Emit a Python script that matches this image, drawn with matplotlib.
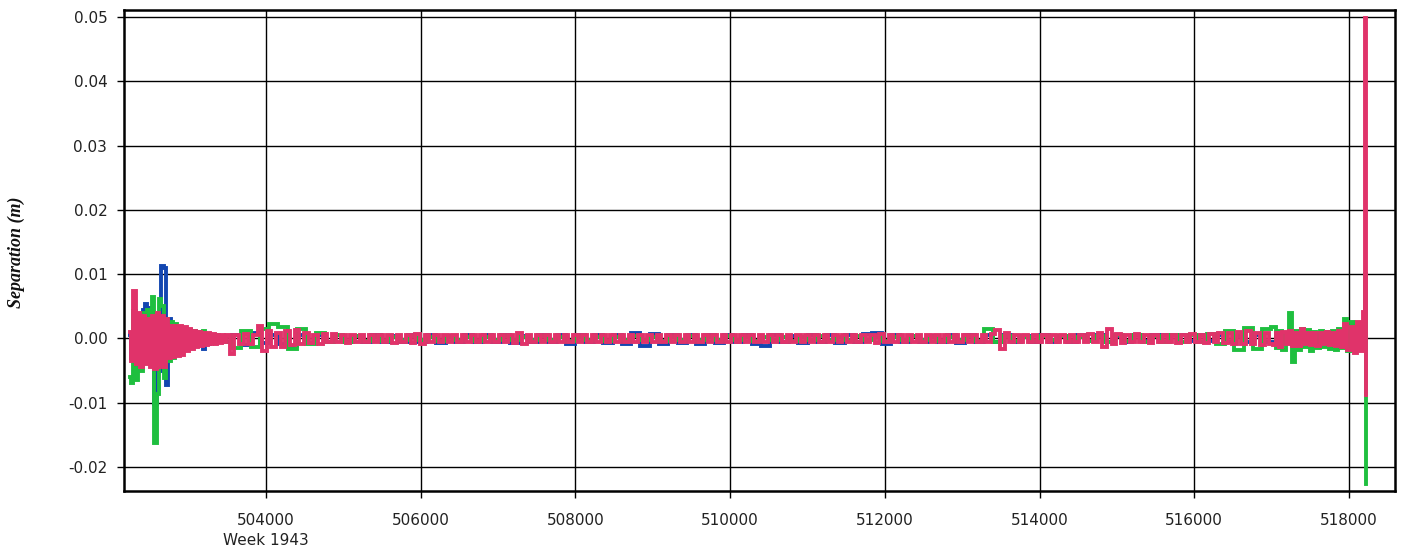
import numpy as np
import matplotlib
matplotlib.use("Agg")
import matplotlib.pyplot as plt
import matplotlib.transforms as mtransforms

# --- Data ---
# start segment, 30 s epochs from 502240 (values in mm)
start_t0, start_dt = 502240, 30
blue_start = [0.5, -3.0, 4.0, -2.5, 3.0, -3.5, 4.5, 5.3, -2.0, 4.8,
              -3.0, -10.2, 2.0, -5.0, 11.3, 11.0, -7.3, 3.0, -2.5, 2.0,
              -2.5, 1.8, -2.0, 1.5, -1.8, 1.2, -1.5, 1.0, -1.2, 0.8,
              -1.0, 0.7, -1.7, 0.6, -0.8, 0.5, -0.7, 0.5, -0.6, 0.4,
              -0.6, 0.4, -0.5]
green_start = [-6.0, -7.0, 4.3, -6.4, 3.5, -5.0, 4.0, -3.5, 4.5, -4.0,
               6.4, -16.3, -8.6, 6.2, 5.0, -6.2, 3.0, -3.5, 2.5, -3.0,
               2.2, -2.5, 1.8, -2.0, 1.5, -1.5, 1.3, -1.2, 1.2, -1.0,
               1.0, -0.8, 1.2, -0.7, 0.6, -0.6, 0.5, -0.5, 0.6, -0.5,
               0.4, -0.5, 0.4]
red_start = [1.0, -3.5, 7.4, -3.9, 4.0, -4.5, 3.5, -4.0, 3.0, -4.5,
             3.5, -4.7, 3.9, -4.5, 3.5, -4.5, 3.0, -3.0, 2.0, -2.9,
             2.0, -2.8, 2.0, -2.5, 1.8, -2.0, 1.5, -1.6, 1.2, -1.4,
             1.0, -1.2, 0.9, -1.0, 0.8, -0.9, 0.7, -0.8, 0.6, -0.7,
             0.6, -0.6, 0.5]

# middle segment from 503500 (values in 0.1 mm)
# red every 60 s, blue and green every 120 s
mid_t0 = 503500
red_mid = [18, -24, 6, -8, 7, -9, 5, 20, -19, 12, -13, 9, -14, 11, -10,
           13, -9, 8, -7, 6, -8, 7, -6, 7, -6, 6, -7, 6, -5, 6,
           -6, 5, -6, 6, -5, 6, -7, 5, -6, 5, -7, 7, -8, 6, -5,
           6, -6, 5, -5, 6, -5, 6, -5, 5, -6, 5, -6, 5, -5, 6,
           -5, 6, -7, 9, -8, 6, -5, 5, -6, 5, -5, 6, -5, 5, -5,
           5, -6, 5, -5, 5, -5, 5, -6, 5, -5, 6, -5, 5, -5, 5,
           -6, 5, -5, 5, -5, 6, -5, 5, -5, 5, -6, 5, -5, 6, -5,
           5, -5, 6, -5, 5, -5, 5, -6, 5, -5, 6, -5, 5, -5, 6,
           -5, 5, -5, 5, -6, 5, -5, 5, -5, 6, -5, 5, -6, 5, -5,
           5, -6, 6, -5, 6, -7, 7, -6, 5, -5, 6, -5, 5, -6, 5,
           -5, 6, -5, 5, -6, 5, -5, 6, -5, 5, -5, 6, -5, 6, -6,
           7, 13, -16, 8, -6, 6, -5, 6, -6, 5, -6, 6, -5, 5, -6,
           6, -5, 6, -6, 5, -6, 7, -6, 8, -13, 14, -9, 7, -7, 6,
           -6, 7, -6, 6, -7, 6, -6, 5, -6, 6, -7, 6, -6, 7, -6,
           6, -7, 7, -6, 8, -7, 9, -8, 10, -9, 11, -9, 8, -10, 9, -8]
blue_mid = [-8, 6, -10, 9, -7, 6, -8, -11, 6, -7, 5, -6, 5, -5, 4,
            -6, 5, -5, 4, -6, 5, -5, 6, -7, 4, -5, 5, -6, 5, -5,
            6, -7, 4, -5, 5, -6, 5, -8, 6, -6, 5, -7, 6, -8, 9,
            -11, 7, -9, 6, -7, 5, -8, 6, -7, 5, -6, 5, -8, -11, 5,
            -6, 4, -7, 5, -6, 5, -7, 6, -6, 7, 9, -9, 5, -6, 4,
            -5, 4, -5, 6, -7, 5, -6, 5, -5, 6, -5, 4, -5, 5, -6,
            4, -5, 5, -4, 6, -5, 4, -5, 5, -4, 5, 6, 5, 6, -4,
            5, -4, 5, -5, 4, -5, 5, -5]
green_mid = [10, -15, 12, -14, 15, 22, 18, -16, 14, -8, 8, -6, 5, -5, 4,
             -4, 3, -4, 3, -3, 4, -3, 3, -4, 3, -3, 3, -4, 3, -3,
             4, -3, 3, -3, 4, -3, 3, -4, 3, -3, 3, -4, 3, -3, 4,
             -3, 3, -4, 3, -3, 4, -3, 3, -3, 4, -3, 3, -4, 3, -3,
             3, -4, 3, -3, 4, -3, 3, -3, 4, -3, 3, -4, 3, -3, 4,
             -3, 3, -4, 3, -3, 4, -4, 15, -5, 4, -4, 3, -4, 4, -3,
             4, -4, 3, -4, 4, -5, 5, -4, 5, -5, 4, -5, 5, -6, 6,
             -5, 7, -9, 12, -18, 16, -17, 14]

# end segment, 40 s epochs from 517000 (values in mm), then the final jump
end_t0, end_dt = 517000, 40
blue_end = [0.6, -0.5, 0.5, -0.6, 0.4, -0.5, 0.6, -0.6, 0.5, -0.4,
            0.5, -0.5, 0.4, -0.6, 0.5, -0.5, 0.4, -0.5, 0.6, -0.5,
            0.5, -0.6, 0.5, -0.5, 0.6, -0.6, 0.5, -0.5, 0.6, -0.6, 0.5]
green_end = [-1.2, 1.8, -1.5, 1.2, -1.8, 0.8, 3.9, -3.7, 1.2, -1.8,
             1.5, -1.4, 1.3, -2.0, 1.0, -1.5, 1.2, -1.3, 1.0, -1.6,
             1.1, -1.8, 1.4, -1.5, 3.1, -2.0, 2.5, -1.6, 1.8, -1.8, 1.2]
red_end = [0.9, -1.0, 0.8, -1.3, 1.0, -0.8, 1.2, -1.1, 0.9, -1.2,
           1.4, -0.9, 0.8, -1.0, 0.9, -1.1, 0.8, -0.9, 1.0, -1.0,
           0.9, -1.2, 1.1, -1.3, 2.3, -1.8, 1.8, -2.2, 2.5, -1.9, 4.1]
jump_t = [518215, 518220]
blue_jump = [0.5, -0.5]
green_jump = [10.0, -22.7]
red_jump = [49.8, -8.8]


def series(start, mid, mid_dt, end, jump):
    t = np.concatenate([
        start_t0 + start_dt * np.arange(len(start)),
        mid_t0 + mid_dt * np.arange(1, len(mid)),
        end_t0 + end_dt * np.arange(1, len(end)),
        jump_t,
    ])
    v = np.concatenate([
        np.array(start) * 1e-3,
        np.array(mid[1:]) * 1e-4,
        np.array(end[1:]) * 1e-3,
        np.array(jump) * 1e-3,
    ])
    return t, v


colors = {'blue': '#1346b0', 'green': '#1fbf3f', 'red': '#e0336a'}

fig = plt.figure(figsize=(14.03, 5.5), dpi=100)
ax = fig.add_axes([0.0884, 0.1073, 0.9059, 0.8745])

for name, s, m, dt, e, j in [
    ('blue', blue_start, blue_mid, 120, blue_end, blue_jump),
    ('green', green_start, green_mid, 120, green_end, green_jump),
    ('red', red_start, red_mid, 60, red_end, red_jump),
]:
    t, v = series(s, m, dt, e, j)
    ax.plot(t, v, color=colors[name], lw=2.8, drawstyle='steps-mid',
            solid_joinstyle='miter', zorder=3)

ax.set_xlim(502164, 518595)
ax.set_ylim(-0.02373, 0.0511)
ax.set_xticks(np.arange(504000, 518001, 2000))
ax.set_yticks(np.arange(-0.02, 0.0501, 0.01))
ax.yaxis.set_major_formatter(matplotlib.ticker.FormatStrFormatter('%.2f'))
ax.grid(True, color='black', lw=1.0)
ax.set_axisbelow(True)

for sp in ax.spines.values():
    sp.set_linewidth(1.8)
ax.tick_params(direction='out', length=5, width=1.0, labelsize=11,
               labelcolor='#222222')
ax.tick_params(axis='x', pad=11)
ax.tick_params(axis='y', pad=7)

trans = mtransforms.blended_transform_factory(ax.transData, ax.transAxes)
ax.text(504000, -0.102, 'Week 1943', transform=trans, ha='center',
        va='center', fontsize=11, color='#222222')

fig.text(0.0115, 0.542, 'Separation (m)', rotation=90, ha='center',
         va='center', fontsize=13, family='Liberation Serif',
         style='italic', weight='bold', color='#111111')

fig.savefig('out.png', dpi=100)
